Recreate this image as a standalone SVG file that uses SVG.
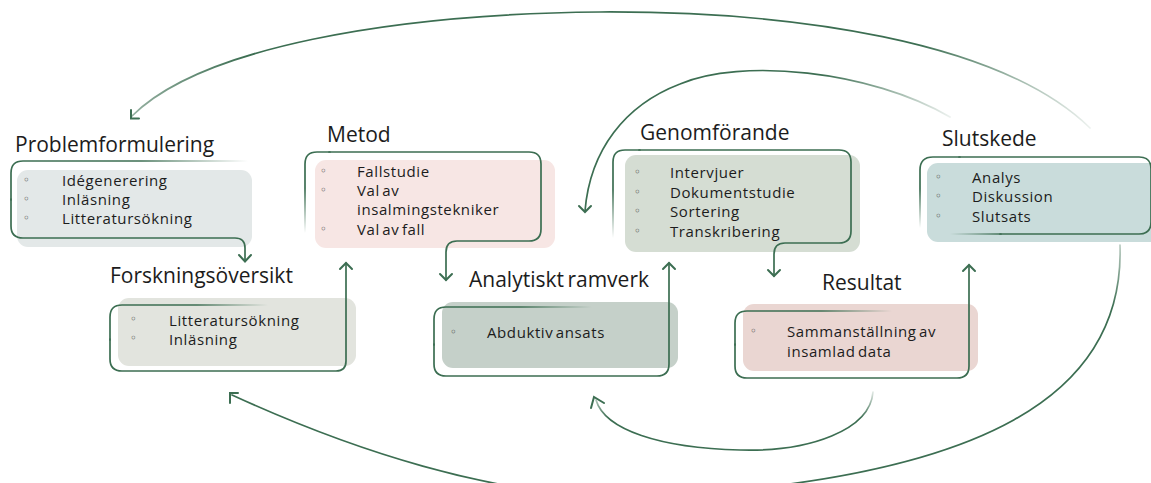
<svg xmlns="http://www.w3.org/2000/svg" width="1151" height="483" viewBox="0 0 1151 483">
  <defs>
    <!-- stroke fades for open outline ends -->
    <linearGradient id="fadeR" x1="0" y1="0" x2="1" y2="0">
      <stop offset="0" stop-color="#3c6e52" stop-opacity="1"/>
      <stop offset="0.55" stop-color="#3c6e52" stop-opacity="1"/>
      <stop offset="1" stop-color="#3c6e52" stop-opacity="0"/>
    </linearGradient>
    <linearGradient id="fadeD" x1="0" y1="0" x2="0" y2="1">
      <stop offset="0" stop-color="#3c6e52" stop-opacity="1"/>
      <stop offset="0.45" stop-color="#3c6e52" stop-opacity="1"/>
      <stop offset="1" stop-color="#3c6e52" stop-opacity="0"/>
    </linearGradient>
    <linearGradient id="fadeSlutBottom" gradientUnits="userSpaceOnUse" x1="950" y1="0" x2="1002" y2="0">
      <stop offset="0" stop-color="#3c6e52" stop-opacity="0"/>
      <stop offset="1" stop-color="#3c6e52" stop-opacity="1"/>
    </linearGradient>
    <linearGradient id="arcTop" x1="0" y1="0" x2="1" y2="0">
      <stop offset="0" stop-color="#3c6e52" stop-opacity="0.55"/>
      <stop offset="0.12" stop-color="#3c6e52" stop-opacity="1"/>
      <stop offset="0.82" stop-color="#3c6e52" stop-opacity="1"/>
      <stop offset="1" stop-color="#3c6e52" stop-opacity="0.1"/>
    </linearGradient>
    <linearGradient id="arcInner" x1="0" y1="0" x2="1" y2="0">
      <stop offset="0" stop-color="#3c6e52" stop-opacity="1"/>
      <stop offset="0.65" stop-color="#3c6e52" stop-opacity="1"/>
      <stop offset="1" stop-color="#3c6e52" stop-opacity="0.1"/>
    </linearGradient>
    <linearGradient id="arcLoop" x1="0" y1="0" x2="0" y2="1">
      <stop offset="0" stop-color="#3c6e52" stop-opacity="0.35"/>
      <stop offset="0.25" stop-color="#3c6e52" stop-opacity="1"/>
      <stop offset="1" stop-color="#3c6e52" stop-opacity="1"/>
    </linearGradient>
    <linearGradient id="arcSmall" x1="0" y1="0" x2="0" y2="1">
      <stop offset="0" stop-color="#3c6e52" stop-opacity="0.15"/>
      <stop offset="0.45" stop-color="#3c6e52" stop-opacity="1"/>
      <stop offset="1" stop-color="#3c6e52" stop-opacity="1"/>
    </linearGradient>
  </defs>
  <style>
    .title { font-family: "Open Sans", "Noto Sans", "DejaVu Sans", sans-serif; font-size: 21px; word-spacing: -2px; fill: #1c1c1c; }
    .item { font-family: "Open Sans", "Noto Sans", "DejaVu Sans", sans-serif; font-size: 15px; letter-spacing: 0.6px; word-spacing: -2px; fill: #1c1c1c; }
    .dot { font-family: "DejaVu Sans", sans-serif; font-size: 12px; fill: #444; }
    .line { fill: none; stroke: #3c6e52; stroke-width: 1.7; stroke-linecap: round; stroke-linejoin: round; }
    .fr { stroke: url(#fadeR); }
    .fd { stroke: url(#fadeD); }
    .head { fill: none; stroke: #3c6e52; stroke-width: 2; stroke-linecap: round; stroke-linejoin: miter; }
  </style>

  <rect width="1151" height="483" fill="#ffffff"/>

  <!-- Problemformulering -->
  <g id="problemformulering">
    <rect x="17" y="170" width="235" height="77" rx="11" fill="#e3e8e8"/>
    <path class="line fr" d="M 11,200 V 173 Q 11,161 23,161 H 248"/>
    <text class="title" x="15" y="152">Problemformulering</text>
    <text class="dot" x="23" y="184">◦</text>
    <text class="dot" x="23" y="203">◦</text>
    <text class="dot" x="23" y="222">◦</text>
    <text class="item" x="62" y="186">Idégenerering</text>
    <text class="item" x="62" y="205">Inläsning</text>
    <text class="item" x="62" y="224">Litteratursökning</text>
  </g>

  <!-- Forskningsöversikt -->
  <g id="forskningsoversikt">
    <rect x="118" y="298" width="238" height="68" rx="11" fill="#e2e4de"/>
    <path class="line fr" d="M 110,340 V 317 Q 110,305 122,305 H 268"/>
    <text class="title" x="110" y="283">Forskningsöversikt</text>
    <text class="dot" x="130" y="323">◦</text>
    <text class="dot" x="130" y="342">◦</text>
    <text class="item" x="169" y="326">Litteratursökning</text>
    <text class="item" x="169" y="345">Inläsning</text>
  </g>

  <!-- Metod -->
  <g id="metod">
    <rect x="315" y="160" width="240" height="88" rx="11" fill="#f7e6e4"/>
    <path class="line fd" d="M 305,233 V 164 Q 305,152 317,152 H 330"/>
    <text class="title" x="327" y="142">Metod</text>
    <text class="dot" x="320" y="175">◦</text>
    <text class="dot" x="320" y="194">◦</text>
    <text class="dot" x="320" y="233">◦</text>
    <text class="item" x="357" y="177">Fallstudie</text>
    <text class="item" x="357" y="196">Val av</text>
    <text class="item" x="357" y="215">insalmingstekniker</text>
    <text class="item" x="357" y="235">Val av fall</text>
  </g>

  <!-- Analytiskt ramverk -->
  <g id="analytiskt-ramverk">
    <rect x="442" y="302" width="236" height="66" rx="11" fill="#c5d0c9"/>
    <path class="line fr" d="M 434,345 V 319 Q 434,307 446,307 H 592"/>
    <text class="title" x="469" y="287">Analytiskt ramverk</text>
    <text class="dot" x="450" y="336">◦</text>
    <text class="item" x="487" y="338">Abduktiv ansats</text>
  </g>

  <!-- Genomförande -->
  <g id="genomforande">
    <rect x="625" y="155" width="235" height="97" rx="11" fill="#d5ddd3"/>
    <path class="line fd" d="M 613,238 V 162 Q 613,150 625,150 H 640"/>
    <text class="title" x="640" y="140">Genomförande</text>
    <text class="dot" x="634" y="176">◦</text>
    <text class="dot" x="634" y="196">◦</text>
    <text class="dot" x="634" y="215">◦</text>
    <text class="dot" x="634" y="235">◦</text>
    <text class="item" x="670" y="178">Intervjuer</text>
    <text class="item" x="670" y="198">Dokumentstudie</text>
    <text class="item" x="670" y="217">Sortering</text>
    <text class="item" x="670" y="237">Transkribering</text>
  </g>

  <!-- Resultat -->
  <g id="resultat">
    <rect x="743" y="304" width="235" height="67" rx="11" fill="#ead6d2"/>
    <path class="line fr" d="M 735,345 V 323 Q 735,311 747,311 H 892"/>
    <text class="title" x="822" y="290">Resultat</text>
    <text class="dot" x="750" y="335">◦</text>
    <text class="item" x="787" y="337">Sammanställning av</text>
    <text class="item" x="787" y="357">insamlad data</text>
  </g>

  <!-- Slutskede -->
  <g id="slutskede">
    <rect x="927" y="163" width="236" height="79" rx="11" fill="#c9dcdb"/>
    <path class="line fd" d="M 920,228 V 170 Q 920,157 933,157 H 960"/>
    <path class="line" d="M 959,157 H 1139 Q 1151,157 1151,169 V 222 Q 1151,234 1139,234 H 1000"/>
    <path class="line" style="stroke:url(#fadeSlutBottom)" d="M 1001,234 H 950"/>
    <text class="title" x="942" y="146">Slutskede</text>
    <text class="dot" x="935" y="181">◦</text>
    <text class="dot" x="935" y="200">◦</text>
    <text class="dot" x="935" y="220">◦</text>
    <text class="item" x="972" y="183">Analys</text>
    <text class="item" x="972" y="202">Diskussion</text>
    <text class="item" x="972" y="222">Slutsats</text>
  </g>

  <!-- Connectors -->
  <g id="connectors">
    <!-- box outlines running on into the next step -->
    <path class="line" d="M 11,199 V 226 Q 11,238 23,238 H 235 Q 245,238 245,248 V 261"/>
    <path class="head" d="M 239,255 L 245,261.5 L 251,255"/>

    <path class="line" d="M 110,339 V 359 Q 110,371 122,371 H 336 Q 346,371 346,361 V 263"/>
    <path class="head" d="M 340,269 L 346,263 L 352,269"/>

    <path class="line" d="M 329,152 H 529 Q 541,152 541,164 V 229 Q 541,241 529,241 H 457 Q 446,241 446,252 V 280"/>
    <path class="head" d="M 440,274 L 446,280 L 452,274"/>

    <path class="line" d="M 434,344 V 364 Q 434,376 446,376 H 657 Q 669,376 669,364 V 263"/>
    <path class="head" d="M 663,269 L 669,263 L 675,269"/>

    <path class="line" d="M 639,150 H 839 Q 851,150 851,162 V 231 Q 851,243 839,243 H 785 Q 774,243 774,254 V 276"/>
    <path class="head" d="M 768,270 L 774,276 L 780,270"/>

    <path class="line" d="M 735,344 V 366 Q 735,378 747,378 H 957 Q 969,378 969,366 V 265"/>
    <path class="head" d="M 963,271 L 969,265 L 975,271"/>

    <!-- Slutskede back to Problemformulering -->
    <path class="line" style="stroke:url(#arcTop)" d="M 1090,128 C 1000,40 790,11 600,12 C 390,14 200,48 132,116"/>
    <path class="head" d="M 131,110 L 131,118.5 L 139,118.5"/>

    <!-- Slutskede back to Genomförande -->
    <path class="line" style="stroke:url(#arcInner)" d="M 950,117 C 870,70 740,58 680,84 C 625,105 590,150 585,211"/>
    <path class="head" d="M 579,206 L 585,212 L 591,206"/>

    <!-- Slutskede back to Forskningsöversikt -->
    <path class="line" style="stroke:url(#arcLoop)" d="M 1120,245 C 1125,395 985,478 660,496 C 500,506 330,440 232,395"/>
    <path class="head" d="M 230,403 L 230,393 L 238,393"/>

    <!-- Resultat back to Analytiskt ramverk -->
    <path class="line" style="stroke:url(#arcSmall)" d="M 873,392 C 870,430 810,452 740,450 C 660,448 605,430 596,400"/>
    <path class="head" d="M 591,408 L 594,397 L 604,403"/>
  </g>
</svg>
